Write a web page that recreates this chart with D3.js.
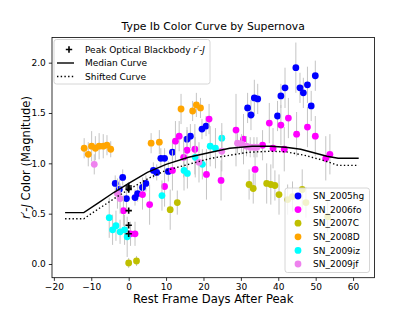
<!DOCTYPE html>
<html>
<head>
<meta charset="utf-8">
<script src="https://cdn.jsdelivr.net/npm/d3@7"></script>
<style>
  body { margin: 0; background: #fff; }
  svg text { font-family: "DejaVu Sans", sans-serif; fill: #000; }
</style>
</head>
<body>
<svg id="chart" width="415" height="311"></svg>
<script>
// ─── data ───
const sn2005hgDays  = [-3.6, -2.5, -1.6, -0.6, 1.7, 2.4, 3.7, 4.6, 6.6, 7.5, 8.6, 9.6, 10.6, 11.7, 15.6, 16.5, 19.6, 20.7, 31.8, 32.7, 33.6, 34.5, 39.8, 40.7, 41.8, 44.7, 45.8, 46.7, 47.8, 48.8, 49.9];
const sn2005hgColor = [0.80, 0.74, 0.86, 0.65, 0.66, 0.70, 0.76, 0.80, 0.93, 0.91, 1.05, 1.05, 0.92, 1.11, 1.24, 1.27, 1.34, 1.37, 1.55, 1.48, 1.65, 1.64, 1.47, 1.67, 1.75, 1.95, 1.75, 1.70, 1.78, 1.57, 1.87];
const sn2005hgErr   = [0.08, 0.10, 0.08, 0.10, 0.08, 0.08, 0.10, 0.08, 0.08, 0.08, 0.10, 0.10, 0.10, 0.10, 0.12, 0.12, 0.10, 0.10, 0.15, 0.15, 0.18, 0.15, 0.15, 0.12, 0.20, 0.25, 0.15, 0.15, 0.18, 0.15, 0.15];

const sn2006foDays  = [-1.4, 0.5, 1.7, 3.7, 5.6, 9.6, 11.7, 12.5, 13.5, 14.7, 15.6, 17.7, 20.8, 21.5, 24.7, 28.7, 30.7, 33.8, 35.8, 37.6, 38.6, 40.7, 41.6, 42.7, 44.9, 47.8, 49.9, 52.7, 53.8];
const sn2006foColor = [0.53, 0.30, 0.30, 0.69, 0.59, 0.77, 0.93, 1.22, 1.27, 1.06, 1.13, 1.14, 0.89, 1.44, 0.83, 1.33, 1.24, 0.94, 1.18, 1.40, 1.15, 1.38, 1.14, 1.45, 1.29, 1.36, 1.27, 1.05, 1.09];
const sn2006foErr   = [0.15, 0.12, 0.12, 0.15, 0.20, 0.20, 0.20, 0.20, 0.15, 0.20, 0.20, 0.25, 0.25, 0.15, 0.20, 0.36, 0.25, 0.20, 0.15, 0.20, 0.20, 0.20, 0.22, 0.20, 0.22, 0.20, 0.20, 0.22, 0.20];

const sn2007CDays  = [0.0, 2.1, 11.1, 13.0, 32.2, 33.3, 36.9, 38.0, 39.1, 40.2, 42.5, 43.8, 46.4, 47.4, 53.2];
const sn2007CColor = [0.01, 0.03, 0.54, 0.61, 0.79, 0.75, 0.80, 0.79, 0.78, 0.69, 0.64, 0.67, 0.74, 0.61, 0.47];
const sn2007CErr   = [0.05, 0.05, 0.20, 0.12, 0.15, 0.15, 0.20, 0.20, 0.15, 0.20, 0.15, 0.15, 0.20, 0.15, 0.15];

const sn2008DDays  = [-11.9, -10.8, -9.9, -8.9, -7.9, -6.8, -5.8, -4.8, 6.0, 8.2, 14.0, 17.1, 18.1, 19.2];
const sn2008DColor = [1.15, 1.09, 1.17, 1.15, 1.17, 1.17, 1.18, 1.14, 1.20, 1.21, 1.54, 1.52, 1.58, 1.55];
const sn2008DErr   = [0.10, 0.12, 0.15, 0.12, 0.13, 0.12, 0.10, 0.08, 0.10, 0.12, 0.15, 0.10, 0.12, 0.10];

const sn2009izDays  = [-5.2, -4.3, -3.4, -2.3, -1.1, -0.4, 8.9, 14.8, 15.7, 17.8, 19.7, 21.8, 23.2, 24.9];
const sn2009izColor = [0.46, 0.34, 0.38, 0.32, 0.34, 0.27, 0.68, 0.93, 0.90, 1.06, 0.99, 1.17, 1.15, 1.25];
const sn2009izErr   = [0.20, 0.15, 0.15, 0.12, 0.15, 0.20, 0.15, 0.20, 0.15, 0.20, 0.15, 0.20, 0.20, 0.15];

const sn2009jfDays  = [-9.2, -3.0, -2.3, 18.8, 24.9, 29.1, 30.2, 31.5, 32.5, 33.5, 34.3];
const sn2009jfColor = [0.99, 0.70, 0.65, 1.01, 1.12, 1.20, 1.19, 1.17, 1.16, 1.16, 1.16];
const sn2009jfErr   = [0.10, 0.15, 0.15, 0.20, 0.20, 0.10, 0.10, 0.10, 0.10, 0.10, 0.10];

const medianDays  = [-17, -12, -8, -4, 0, 5, 10, 16, 22, 27, 33, 38, 42, 46, 50, 53, 56, 61.5];
const medianColor = [0.51, 0.51, 0.61, 0.71, 0.80, 0.91, 0.99, 1.06, 1.11, 1.15, 1.17, 1.17, 1.16, 1.14, 1.10, 1.07, 1.05, 1.05];

const shiftedDays  = [-17, -12, -8, -3, 0, 5.5, 10, 16, 22, 27, 32, 38, 42, 47, 52, 56, 61.5];
const shiftedColor = [0.45, 0.45, 0.55, 0.67, 0.74, 0.855, 0.93, 0.99, 1.05, 1.08, 1.11, 1.12, 1.115, 1.08, 1.03, 0.98, 0.98];

const peakDays  = [0, 0, 0, 0, 0, 0];
const peakColor = [0.775, 0.755, 0.74, 0.53, 0.385, 0.30];

const xTicks = [-20, -10, 0, 10, 20, 30, 40, 50, 60];
const yTicks = [0.0, 0.5, 1.0, 1.5, 2.0];

const series = [
  { name: 'SN_2005hg', fill: '#0000ff', days: sn2005hgDays, color: sn2005hgColor, err: sn2005hgErr },
  { name: 'SN_2006fo', fill: '#ff00ff', days: sn2006foDays, color: sn2006foColor, err: sn2006foErr },
  { name: 'SN_2007C',  fill: '#bfbf00', days: sn2007CDays,  color: sn2007CColor,  err: sn2007CErr },
  { name: 'SN_2008D',  fill: '#ffa500', days: sn2008DDays,  color: sn2008DColor,  err: sn2008DErr },
  { name: 'SN_2009iz', fill: '#00ffff', days: sn2009izDays, color: sn2009izColor, err: sn2009izErr },
  { name: 'SN_2009jf', fill: '#ee82ee', days: sn2009jfDays, color: sn2009jfColor, err: sn2009jfErr },
];

// ─── layout ───
const box = { left: 52, right: 374.4, top: 37.4, bottom: 277.7 };
const svg = d3.select('#chart');

const x = d3.scaleLinear().domain([-20.5, 65.7]).range([box.left, box.right]);
const y = d3.scaleLinear().domain([-0.136, 2.251]).range([box.bottom, box.top]);

const plot = svg.append('g');

// error bars + points, one SN at a time
series.forEach(s => {
  const pts = s.days.map((d, i) => ({ d, c: s.color[i], e: s.err[i] }));
  const g = plot.append('g');
  g.selectAll('line')
    .data(pts)
    .enter()
    .append('line')
    .attr('x1', p => x(p.d)).attr('x2', p => x(p.d))
    .attr('y1', p => y(p.c - p.e)).attr('y2', p => y(p.c + p.e))
    .attr('stroke', '#c4c4c4')
    .attr('stroke-width', 1);
  g.selectAll('circle')
    .data(pts)
    .enter()
    .append('circle')
    .attr('cx', p => x(p.d)).attr('cy', p => y(p.c))
    .attr('r', 3.4)
    .attr('fill', s.fill);
});

// curves
const line = d3.line().x(p => x(p[0])).y(p => y(p[1]));
plot.append('path')
  .attr('d', line(d3.zip(medianDays, medianColor)))
  .attr('fill', 'none').attr('stroke', '#000').attr('stroke-width', 1.4);
plot.append('path')
  .attr('d', line(d3.zip(shiftedDays, shiftedColor)))
  .attr('fill', 'none').attr('stroke', '#000').attr('stroke-width', 1.4)
  .attr('stroke-dasharray', '1.4,2.3');

// peak crosses
const crossPath = (cx, cy, s) => `M${cx - s},${cy}H${cx + s}M${cx},${cy - s}V${cy + s}`;
plot.append('g').selectAll('path')
  .data(d3.zip(peakDays, peakColor))
  .enter()
  .append('path')
  .attr('d', p => crossPath(x(p[0]), y(p[1]), 3.2))
  .attr('stroke', '#000').attr('stroke-width', 1.6);

// ─── axes ───
const xAxis = svg.append('g')
  .attr('transform', `translate(0,${box.bottom})`)
  .call(d3.axisBottom(x).tickValues(xTicks).tickSize(3.2).tickPadding(3)
    .tickFormat(d => d3.format('d')(d).replace('-', '\u2212')));
const yAxis = svg.append('g')
  .attr('transform', `translate(${box.left},0)`)
  .call(d3.axisLeft(y).tickValues(yTicks).tickSize(3.2).tickPadding(3)
    .tickFormat(d3.format('.1f')));
[xAxis, yAxis].forEach(a => {
  a.select('.domain').remove();
  a.selectAll('line').attr('stroke', '#000').attr('stroke-width', 0.8);
  a.selectAll('text').attr('font-size', 9).attr('font-family', 'DejaVu Sans').attr('fill', '#000');
});

svg.append('rect')
  .attr('x', box.left).attr('y', box.top)
  .attr('width', box.right - box.left).attr('height', box.bottom - box.top)
  .attr('fill', 'none').attr('stroke', '#000').attr('stroke-width', 0.8);

// ─── texts ───
svg.append('text')
  .attr('x', (box.left + box.right) / 2).attr('y', 30)
  .attr('text-anchor', 'middle').attr('font-size', 10.8)
  .text('Type Ib Color Curve by Supernova');

svg.append('text')
  .attr('x', (box.left + box.right) / 2).attr('y', 303)
  .attr('text-anchor', 'middle').attr('font-size', 11.6)
  .text('Rest Frame Days After Peak');

const yl = svg.append('text')
  .attr('transform', `translate(30,${(box.top + box.bottom) / 2}) rotate(-90)`)
  .attr('text-anchor', 'middle').attr('font-size', 11.6);
yl.append('tspan').attr('font-style', 'italic').text('r\u2032');
yl.append('tspan').text('-');
yl.append('tspan').attr('font-style', 'italic').text('J');
yl.append('tspan').text(' Color (Magnitude)');

// ─── legend: curves ───
const lg1 = svg.append('g');
lg1.append('rect')
  .attr('x', 54).attr('y', 39.5).attr('width', 156).attr('height', 44.5).attr('rx', 2.5)
  .attr('fill', '#fff').attr('fill-opacity', 0.8).attr('stroke', '#cccccc').attr('stroke-width', 0.8);
lg1.append('path').attr('d', crossPath(69, 49.5, 3.2)).attr('stroke', '#000').attr('stroke-width', 1.6);
lg1.append('line').attr('x1', 57).attr('x2', 74).attr('y1', 63).attr('y2', 63)
  .attr('stroke', '#000').attr('stroke-width', 1.4);
lg1.append('line').attr('x1', 57).attr('x2', 74).attr('y1', 76.5).attr('y2', 76.5)
  .attr('stroke', '#000').attr('stroke-width', 1.4).attr('stroke-dasharray', '1.4,2.3');
const l1 = lg1.append('text').attr('x', 85).attr('y', 52.5).attr('font-size', 9);
l1.append('tspan').text('Peak Optical Blackbody ');
l1.append('tspan').attr('font-style', 'italic').text('r\u2032');
l1.append('tspan').text('-');
l1.append('tspan').attr('font-style', 'italic').text('J');
lg1.append('text').attr('x', 85).attr('y', 66).attr('font-size', 9).text('Median Curve');
lg1.append('text').attr('x', 85).attr('y', 79.5).attr('font-size', 9).text('Shifted Curve');

// ─── legend: supernovae ───
const lg2 = svg.append('g');
lg2.append('rect')
  .attr('x', 285).attr('y', 188).attr('width', 84.5).attr('height', 84.5).attr('rx', 2.5)
  .attr('fill', '#fff').attr('fill-opacity', 0.8).attr('stroke', '#cccccc').attr('stroke-width', 0.8);
const rows = lg2.selectAll('g.row')
  .data(series)
  .enter()
  .append('g')
  .attr('class', 'row')
  .attr('transform', (s, i) => `translate(0,${196 + i * 13.6})`);
rows.append('circle').attr('cx', 298).attr('cy', 0).attr('r', 3.4).attr('fill', s => s.fill);
rows.append('text').attr('x', 313).attr('y', 3.2).attr('font-size', 9).text(s => s.name);
</script>
</body>
</html>
